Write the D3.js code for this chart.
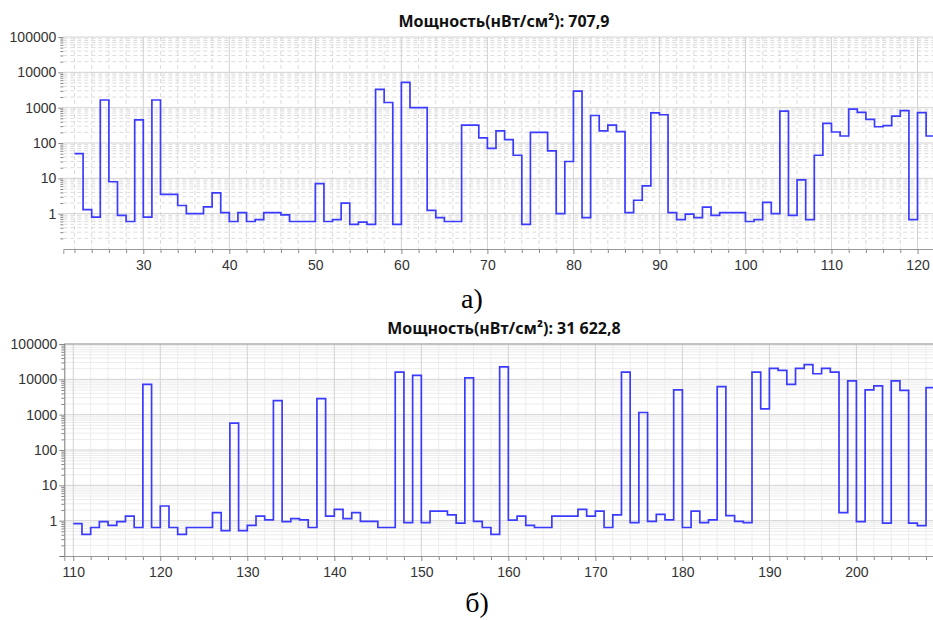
<!DOCTYPE html>
<html>
<head>
<meta charset="utf-8">
<script src="https://cdnjs.cloudflare.com/ajax/libs/d3/7.8.5/d3.min.js"></script>
<style>
body { margin: 0; background: #fff; }
svg { display: block; font-family: "Noto Sans", "Open Sans", sans-serif; }
.tick text { font-size: 14px; fill: #333; }
.title { font-size: 16px; font-weight: bold; fill: #111; }
.caption { font-family: "Liberation Serif", "Times New Roman", serif; font-size: 28px; fill: #000; }
.step { fill: none; stroke: #3b3bff; stroke-width: 1.7; }
</style>
</head>
<body>
<svg id="chart" width="933" height="620"></svg>
<script>

// panel a) -- one value per integer x, starting at topStart
var topStart = 22
var topValues = [50, 1.3, 0.8, 1650, 8, 0.9, 0.6, 450, 0.8, 1650,
  3.5, 3.5, 1.7, 1.0, 1.0, 1.55, 3.9, 1.07, 0.6, 1.07,
  0.6, 0.68, 1.07, 1.07, 0.93, 0.6, 0.6, 0.6, 7.1, 0.6,
  0.68, 2.0, 0.5, 0.58, 0.5, 3300, 1400, 0.5, 5200, 1000,
  1000, 1.24, 0.77, 0.6, 0.6, 320, 320, 140, 70, 220,
  125, 45, 0.5, 200, 200, 60, 1.0, 30, 2950, 0.77,
  600, 220, 320, 210, 1.07, 2.4, 6.1, 710, 630, 1.07,
  0.68, 0.97, 0.77, 1.54, 0.9, 1.07, 1.07, 1.07, 0.6, 0.68,
  2.1, 1.0, 800, 0.9, 9, 0.68, 45, 360, 205, 158,
  910, 740, 464, 288, 310, 575, 820, 0.68, 720, 158]

// panel б)
var bottomStart = 110
var bottomValues = [0.83, 0.41, 0.64, 0.94, 0.74, 0.94, 1.35, 0.64, 7200, 0.64,
  2.6, 0.64, 0.41, 0.64, 0.64, 0.64, 1.68, 0.52, 580, 0.52,
  0.74, 1.35, 1.05, 2500, 0.94, 1.14, 1.05, 0.64, 2850, 1.35,
  2.1, 1.14, 1.68, 0.96, 0.96, 0.64, 0.64, 16000, 0.88, 13000,
  0.88, 1.87, 1.87, 1.45, 0.85, 11000, 0.96, 0.64, 0.41, 22600,
  1.03, 1.35, 0.74, 0.64, 0.64, 1.35, 1.35, 1.35, 2.1, 1.35,
  1.87, 0.64, 1.45, 16000, 0.88, 1150, 0.96, 1.51, 1.05, 5000,
  0.64, 1.87, 0.88, 1.05, 6200, 1.38, 0.96, 0.88, 16000, 1450,
  20400, 18000, 7200, 20400, 26000, 14400, 20400, 16000, 1.68, 9000,
  0.94, 5000, 6500, 0.85, 9000, 4900, 0.85, 0.72, 5800]

var topXTicks = [30, 40, 50, 60, 70, 80, 90, 100, 110, 120]
var bottomXTicks = [110, 120, 130, 140, 150, 160, 170, 180, 190, 200]
var yTicks = [1, 10, 100, 1000, 10000, 100000]
var titles = ['Мощность(нВт/см²): 707,9', 'Мощность(нВт/см²): 31 622,8']
var captions = ['а)', 'б)']

var svg = d3.select('#chart')

var drawPanel = function(p) {
    var g = svg.append('g')
    var x = d3.scaleLinear().domain(p.xDomain).range([p.left, 933])
    var y = d3.scaleLog().domain([0.1, 100000]).range([p.bottom, p.top])

    var minorY = []
    for (var d = -1; d < 5; d++)
        for (var k = 2; k < 10; k++) minorY.push(k * Math.pow(10, d))
    var minorX = d3.range(Math.ceil(p.xDomain[0] / 2) * 2, p.xDomain[1], 2)
        .filter(function(v) { return v % 10 !== 0 })

    // grid
    var grid = g.append('g')
    grid.selectAll('.hminor').data(minorY).enter().append('line')
        .attr('x1', p.left).attr('x2', 933)
        .attr('y1', function(d) { return y(d) }).attr('y2', function(d) { return y(d) })
        .attr('stroke', p.minorColor).attr('stroke-dasharray', p.dash)
    grid.selectAll('.vminor').data(minorX).enter().append('line')
        .attr('x1', function(d) { return x(d) }).attr('x2', function(d) { return x(d) })
        .attr('y1', p.top).attr('y2', p.bottom)
        .attr('stroke', p.minorColor).attr('stroke-dasharray', p.dash)
    grid.selectAll('.hmajor').data(yTicks).enter().append('line')
        .attr('x1', p.left).attr('x2', 933)
        .attr('y1', function(d) { return y(d) }).attr('y2', function(d) { return y(d) })
        .attr('stroke', '#d2d2d2')
    grid.selectAll('.vmajor').data(p.xTicks).enter().append('line')
        .attr('x1', function(d) { return x(d) }).attr('x2', function(d) { return x(d) })
        .attr('y1', p.top).attr('y2', p.bottom)
        .attr('stroke', '#d2d2d2')

    if (p.frame) {
        g.append('line').attr('x1', p.left).attr('x2', 933)
            .attr('y1', p.top).attr('y2', p.top).attr('stroke', '#999')
    }

    // axes
    var yMinor = g.append('g').attr('transform', 'translate(' + p.left + ',0)')
        .call(d3.axisLeft(y).tickValues(minorY).tickFormat('').tickSize(3))
    var yMajor = g.append('g').attr('transform', 'translate(' + p.left + ',0)')
        .call(d3.axisLeft(y).tickValues(yTicks).tickFormat(d3.format('d')).tickSize(5).tickPadding(2))
    yMinor.select('.domain').remove()
    yMajor.select('.domain').attr('stroke', p.frame ? '#777' : 'none')

    var xMinor = g.append('g').attr('transform', 'translate(0,' + p.bottom + ')')
        .call(d3.axisBottom(x).tickValues(minorX).tickFormat('').tickSize(4))
    var xMajor = g.append('g').attr('transform', 'translate(0,' + p.bottom + ')')
        .call(d3.axisBottom(x).tickValues(p.xTicks).tickFormat(d3.format('d')).tickSize(5).tickPadding(6))
    xMinor.select('.domain').remove()
    xMajor.select('.domain').attr('stroke', '#999')
    g.selectAll('.tick line').attr('stroke', '#888')
    g.selectAll('.tick text').attr('fill', '#333')

    // step line
    var clipId = 'clip' + p.id
    svg.append('clipPath').attr('id', clipId).append('rect')
        .attr('x', p.left).attr('y', p.top - 2)
        .attr('width', 933 - p.left).attr('height', p.bottom - p.top + 2)
    var pts = p.values.map(function(v, i) { return [p.start + i, v] })
    pts.push([p.start + p.values.length, p.values[p.values.length - 1]])
    var line = d3.line()
        .x(function(d) { return x(d[0]) })
        .y(function(d) { return y(d[1]) })
        .curve(d3.curveStepAfter)
    g.append('path').datum(pts).attr('class', 'step')
        .attr('clip-path', 'url(#' + clipId + ')')
        .attr('d', line)

    g.append('text').attr('class', 'title')
        .attr('x', 504).attr('y', p.titleY).attr('text-anchor', 'middle')
        .text(p.title)
    g.append('text').attr('class', 'caption')
        .attr('x', p.capX).attr('y', p.capY).attr('text-anchor', 'middle')
        .text(p.caption)
}

drawPanel({id: 'a', values: topValues, start: topStart, xDomain: [20.7, 121.8], xTicks: topXTicks,
    left: 63.3, top: 37, bottom: 249, minorColor: '#dcdcdc', dash: '4,3', frame: false,
    title: titles[0], titleY: 27, caption: captions[0], capX: 472, capY: 308})

drawPanel({id: 'b', values: bottomValues, start: bottomStart, xDomain: [108.97, 208.8], xTicks: bottomXTicks,
    left: 64.3, top: 344, bottom: 556, minorColor: '#ececec', dash: null, frame: true,
    title: titles[1], titleY: 334, caption: captions[1], capX: 477, capY: 612})

</script>
</body>
</html>
